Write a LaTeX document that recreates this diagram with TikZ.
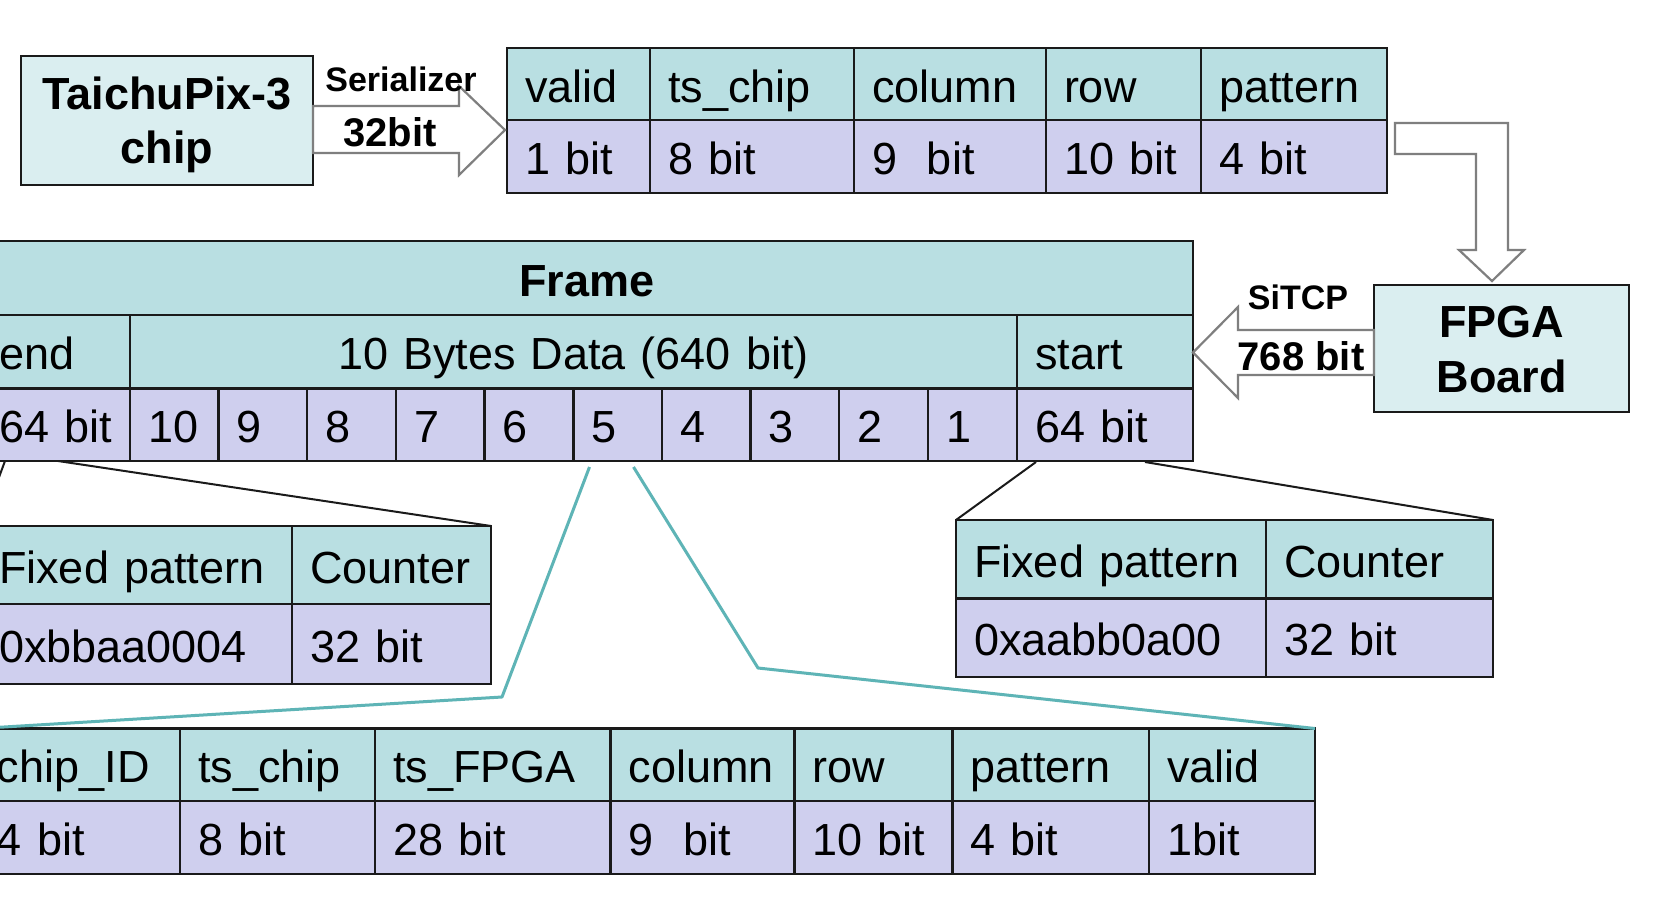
\documentclass[tikz,border=0pt]{standalone}
\usepackage{fontspec}
\setmainfont{Liberation Sans}
\usetikzlibrary{calc}
\definecolor{hdr}{HTML}{B9DFE2}
\definecolor{bdy}{HTML}{CFCFEE}
\definecolor{boxc}{HTML}{DAEEF0}
\definecolor{tealc}{HTML}{5EB4B6}
\definecolor{arrg}{HTML}{7F7F7F}
\definecolor{edgec}{HTML}{1A1A1A}
\tikzset{
  cellbase/.style={draw=edgec, line width=2.2pt, inner xsep=18pt, inner ysep=0pt, outer sep=0pt,
    align=left, text height=38pt, text depth=2pt, font=\fontsize{45}{54}\selectfont},
  hcell/.style={cellbase, fill=hdr},
  bcell/.style={cellbase, fill=bdy},
  ctext/.style={align=center},
  bigbox/.style={draw=edgec, fill=boxc, line width=2.2pt, inner sep=0pt, outer sep=0pt},
  boxtext/.style={align=center, inner sep=0pt},
  blockarrow/.style={draw=arrg, fill=white, line width=2.2pt, line join=miter},
  lblsmall/.style={inner sep=0pt, font=\bfseries\fontsize{34}{40}\selectfont},
  lblmid/.style={inner sep=0pt, font=\bfseries\fontsize{40}{46}\selectfont},
  blackline/.style={draw=edgec, line width=2pt},
  tealline/.style={draw=tealc, line width=3pt, line join=round}
}
\newcommand\tcell[7]{%
  \pgfmathsetmacro\cw{#5-#3}%
  \pgfmathsetmacro\ch{#6-#4}%
  \pgfmathsetmacro\tw{#5-#3-36}%
  \node[#1, anchor=north west, minimum width=\cw pt, minimum height=\ch pt, text width=\tw pt] (#2) at (#3,#4) {\mbox{#7}};%
}
\begin{document}
\begin{tikzpicture}[x=1pt,y=-1pt]
\fill[white] (0,0) rectangle (1655,897);
\useasboundingbox (0,0) rectangle (1655,897);
\clip (0,0) rectangle (1655,897);

% boxes
\node[bigbox, minimum width=292pt, minimum height=129pt] (chip) at (167,120.5) {};
\node[boxtext, font=\bfseries\fontsize{45}{54}\selectfont] (chiplbl) at ($(chip.center)+(0,4)$) {TaichuPix-3\\chip};
\node[bigbox, minimum width=255pt, minimum height=127pt] (fpga) at (1501.5,348.5) {};
\node[boxtext, font=\bfseries\fontsize{45}{55}\selectfont] (fpgalbl) at ($(fpga.center)+(0,1)$) {FPGA\\Board};

% top table
\tcell{hcell}{tv}{507}{48}{650}{120}{valid}
\tcell{hcell}{tts}{650}{48}{854}{120}{ts\_chip}
\tcell{hcell}{tcol}{854}{48}{1046}{120}{column}
\tcell{hcell}{trow}{1046}{48}{1201}{120}{row}
\tcell{hcell}{tpat}{1201}{48}{1387}{120}{pattern}
\tcell{bcell}{bv}{507}{120}{650}{193}{1 bit}
\tcell{bcell}{bts}{650}{120}{854}{193}{8 bit}
\tcell{bcell}{bcol}{854}{120}{1046}{193}{9\ \ bit}
\tcell{bcell}{brow}{1046}{120}{1201}{193}{10 bit}
\tcell{bcell}{bpat}{1201}{120}{1387}{193}{4 bit}

% frame table
\tcell{hcell,ctext,font=\bfseries\fontsize{45}{54}\selectfont}{frame}{-19}{241}{1193}{315}{Frame}
\tcell{hcell}{fend}{-19}{315}{130}{388.5}{end}
\tcell{hcell,ctext}{fdata}{130}{315}{1017}{388.5}{10 Bytes Data (640 bit)}
\tcell{hcell}{fstart}{1017}{315}{1193}{388.5}{start}
\tcell{bcell}{fe64}{-19}{388.5}{130}{461}{64 bit}
\tcell{bcell}{d10}{130}{388.5}{218.5}{461}{10}
\tcell{bcell}{d9}{218.5}{388.5}{307}{461}{9}
\tcell{bcell}{d8}{307}{388.5}{396}{461}{8}
\tcell{bcell}{d7}{396}{388.5}{484.5}{461}{7}
\tcell{bcell}{d6}{484.5}{388.5}{573.5}{461}{6}
\tcell{bcell}{d5}{573.5}{388.5}{662}{461}{5}
\tcell{bcell}{d4}{662}{388.5}{750.5}{461}{4}
\tcell{bcell}{d3}{750.5}{388.5}{839}{461}{3}
\tcell{bcell}{d2}{839}{388.5}{928}{461}{2}
\tcell{bcell}{d1}{928}{388.5}{1017}{461}{1}
\tcell{bcell}{fs64}{1017}{388.5}{1193}{461}{64 bit}

% left fixed-pattern table
\tcell{hcell}{lfp1}{-19}{526}{292}{604}{Fixed pattern}
\tcell{hcell}{lfp2}{292}{526}{491}{604}{Counter}
\tcell{bcell}{lfp3}{-19}{604}{292}{684}{0xbbaa0004}
\tcell{bcell}{lfp4}{292}{604}{491}{684}{32 bit}

% right fixed-pattern table
\tcell{hcell}{rfp1}{956}{520}{1266}{598.5}{Fixed pattern}
\tcell{hcell}{rfp2}{1266}{520}{1493}{598.5}{Counter}
\tcell{bcell}{rfp3}{956}{598.5}{1266}{677}{0xaabb0a00}
\tcell{bcell}{rfp4}{1266}{598.5}{1493}{677}{32 bit}

% bottom table
\tcell{hcell}{bcid}{-21}{728.5}{180}{801}{chip\_ID}
\tcell{hcell}{bbts}{180}{728.5}{375}{801}{ts\_chip}
\tcell{hcell}{bbfp}{375}{728.5}{610.5}{801}{ts\_FPGA}
\tcell{hcell}{bbcol}{610.5}{728.5}{794.5}{801}{column}
\tcell{hcell}{bbrow}{794.5}{728.5}{952.5}{801}{row}
\tcell{hcell}{bbpat}{952.5}{728.5}{1149}{801}{pattern}
\tcell{hcell}{bval}{1149}{728.5}{1315}{801}{valid}
\tcell{bcell}{vcid}{-21}{801}{180}{874}{4 bit}
\tcell{bcell}{vts}{180}{801}{375}{874}{8 bit}
\tcell{bcell}{vfp}{375}{801}{610.5}{874}{28 bit}
\tcell{bcell}{vcol}{610.5}{801}{794.5}{874}{9\ \ bit}
\tcell{bcell}{vrow}{794.5}{801}{952.5}{874}{10 bit}
\tcell{bcell}{vpat}{952.5}{801}{1149}{874}{4 bit}
\tcell{bcell}{vval}{1149}{801}{1315}{874}{1bit}

% block arrows
\draw[blockarrow] (chip.east |- 0,106) -- (459,106) -- (459,86) -- (505,130) -- (459,175) -- (459,153) -- (chip.east |- 0,153) -- cycle;
\draw[blockarrow] (1395,123) -- (1508,123) -- (1508,250) -- (1524,250) -- (1492,281) -- (1459,250) -- (1476,250) -- (1476,154) -- (1395,154) -- cycle;
\draw[blockarrow] (fpga.west |- 0,330) -- (1238,330) -- (1238,307) -- (1193,352.5) -- (1238,398) -- (1238,375) -- (fpga.west |- 0,375) -- cycle;

% arrow labels
\node[lblsmall] (ser) at (401,79) {Serializer};
\node[lblmid] (b32) at (390,132) {32bit};
\node[lblsmall] (sitcp) at (1298,297) {SiTCP};
\node[lblmid] (b768) at (1301,356) {768 bit};

% expansion lines
\draw[blackline] ($(fe64.south west)+(24,0)$) -- (lfp1.north west);
\draw[blackline] ($(fe64.south west)+(77,0)$) -- (lfp2.north east);
\draw[blackline] ($(fs64.south west)+(19,1)$) -- (rfp1.north west);
\draw[blackline] ($(fs64.south west)+(128,1)$) -- (rfp2.north east);

\coordinate (t1) at (502,697);
\coordinate (t2) at (758,668);
\draw[tealline] ($(d5.south west)+(16,6)$) -- (t1) -- (bcid.north west);
\draw[tealline] ($(d5.south west)+(60,6)$) -- (t2) -- (bval.north east);
\end{tikzpicture}
\end{document}
